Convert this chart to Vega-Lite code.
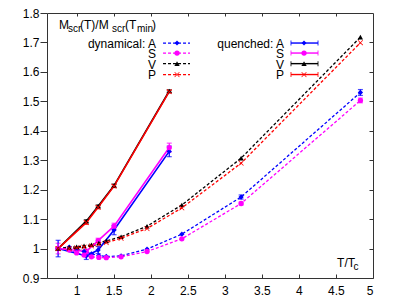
{
  "$schema": "https://vega.github.io/schema/vega-lite/v6.json",
  "width": 326,
  "height": 265,
  "autosize": "none",
  "padding": {"left": 47, "top": 13, "right": 22, "bottom": 22},
  "background": "white",
  "config": {
    "view": {"stroke": "#333", "strokeWidth": 1},
    "font": "Liberation Sans",
    "axis": {"labelFont": "Liberation Sans", "labelFontSize": 12, "labelColor": "#000", "tickColor": "#333", "domain": false, "grid": false, "title": null, "labelOverlap": false}
  },
  "datasets": {
    "main": [
      {"set": "dynamical", "ch": "A", "x": 0.75, "y": 1.0, "err": 0.028},
      {"set": "dynamical", "ch": "A", "x": 1.13, "y": 0.975, "err": 0.012},
      {"set": "dynamical", "ch": "A", "x": 1.29, "y": 0.995, "err": 0.012},
      {"set": "dynamical", "ch": "A", "x": 1.505, "y": 1.063, "err": 0.016},
      {"set": "dynamical", "ch": "A", "x": 2.25, "y": 1.33, "err": 0.018},
      {"set": "dynamical", "ch": "S", "x": 0.75, "y": 1.0, "err": 0.018},
      {"set": "dynamical", "ch": "S", "x": 1.13, "y": 0.99, "err": 0.008},
      {"set": "dynamical", "ch": "S", "x": 1.29, "y": 1.027, "err": 0.008},
      {"set": "dynamical", "ch": "S", "x": 1.505, "y": 1.076, "err": 0.01},
      {"set": "dynamical", "ch": "S", "x": 2.25, "y": 1.343, "err": 0.015},
      {"set": "dynamical", "ch": "V", "x": 0.75, "y": 1.0, "err": 0.004},
      {"set": "dynamical", "ch": "V", "x": 1.13, "y": 1.093, "err": 0.005},
      {"set": "dynamical", "ch": "V", "x": 1.29, "y": 1.144, "err": 0.004},
      {"set": "dynamical", "ch": "V", "x": 1.505, "y": 1.214, "err": 0.005},
      {"set": "dynamical", "ch": "V", "x": 2.25, "y": 1.535, "err": 0.004},
      {"set": "dynamical", "ch": "P", "x": 0.75, "y": 1.0, "err": 0.004},
      {"set": "dynamical", "ch": "P", "x": 1.13, "y": 1.088, "err": 0.006},
      {"set": "dynamical", "ch": "P", "x": 1.29, "y": 1.14, "err": 0.005},
      {"set": "dynamical", "ch": "P", "x": 1.505, "y": 1.212, "err": 0.005},
      {"set": "dynamical", "ch": "P", "x": 2.25, "y": 1.533, "err": 0.004},
      {"set": "quenched", "ch": "A", "x": 0.75, "y": 1.0, "err": 0},
      {"set": "quenched", "ch": "A", "x": 0.9, "y": 1.005, "err": 0},
      {"set": "quenched", "ch": "A", "x": 1.0, "y": 0.998, "err": 0},
      {"set": "quenched", "ch": "A", "x": 1.1, "y": 0.99, "err": 0},
      {"set": "quenched", "ch": "A", "x": 1.2, "y": 0.982, "err": 0},
      {"set": "quenched", "ch": "A", "x": 1.3, "y": 0.976, "err": 0},
      {"set": "quenched", "ch": "A", "x": 1.4, "y": 0.973, "err": 0},
      {"set": "quenched", "ch": "A", "x": 1.6, "y": 0.975, "err": 0},
      {"set": "quenched", "ch": "A", "x": 1.95, "y": 0.998, "err": 0},
      {"set": "quenched", "ch": "A", "x": 2.42, "y": 1.049, "err": 0},
      {"set": "quenched", "ch": "A", "x": 3.22, "y": 1.175, "err": 0.007},
      {"set": "quenched", "ch": "A", "x": 4.83, "y": 1.53, "err": 0.01},
      {"set": "quenched", "ch": "S", "x": 0.75, "y": 1.0, "err": 0},
      {"set": "quenched", "ch": "S", "x": 0.9, "y": 0.995, "err": 0},
      {"set": "quenched", "ch": "S", "x": 1.0, "y": 0.985, "err": 0},
      {"set": "quenched", "ch": "S", "x": 1.1, "y": 0.978, "err": 0},
      {"set": "quenched", "ch": "S", "x": 1.2, "y": 0.972, "err": 0},
      {"set": "quenched", "ch": "S", "x": 1.3, "y": 0.97, "err": 0},
      {"set": "quenched", "ch": "S", "x": 1.4, "y": 0.969, "err": 0},
      {"set": "quenched", "ch": "S", "x": 1.6, "y": 0.972, "err": 0},
      {"set": "quenched", "ch": "S", "x": 1.95, "y": 0.99, "err": 0},
      {"set": "quenched", "ch": "S", "x": 2.42, "y": 1.033, "err": 0},
      {"set": "quenched", "ch": "S", "x": 3.22, "y": 1.153, "err": 0.005},
      {"set": "quenched", "ch": "S", "x": 4.83, "y": 1.503, "err": 0.008},
      {"set": "quenched", "ch": "V", "x": 0.75, "y": 1.0, "err": 0},
      {"set": "quenched", "ch": "V", "x": 0.9, "y": 1.004, "err": 0},
      {"set": "quenched", "ch": "V", "x": 1.0, "y": 1.006, "err": 0},
      {"set": "quenched", "ch": "V", "x": 1.1, "y": 1.009, "err": 0},
      {"set": "quenched", "ch": "V", "x": 1.2, "y": 1.013, "err": 0},
      {"set": "quenched", "ch": "V", "x": 1.3, "y": 1.019, "err": 0},
      {"set": "quenched", "ch": "V", "x": 1.4, "y": 1.026, "err": 0},
      {"set": "quenched", "ch": "V", "x": 1.6, "y": 1.04, "err": 0},
      {"set": "quenched", "ch": "V", "x": 1.95, "y": 1.076, "err": 0},
      {"set": "quenched", "ch": "V", "x": 2.42, "y": 1.148, "err": 0},
      {"set": "quenched", "ch": "V", "x": 3.22, "y": 1.307, "err": 0},
      {"set": "quenched", "ch": "V", "x": 4.83, "y": 1.718, "err": 0},
      {"set": "quenched", "ch": "P", "x": 0.75, "y": 1.0, "err": 0},
      {"set": "quenched", "ch": "P", "x": 0.9, "y": 1.0, "err": 0},
      {"set": "quenched", "ch": "P", "x": 1.0, "y": 1.002, "err": 0},
      {"set": "quenched", "ch": "P", "x": 1.1, "y": 1.005, "err": 0},
      {"set": "quenched", "ch": "P", "x": 1.2, "y": 1.009, "err": 0},
      {"set": "quenched", "ch": "P", "x": 1.3, "y": 1.014, "err": 0},
      {"set": "quenched", "ch": "P", "x": 1.4, "y": 1.02, "err": 0},
      {"set": "quenched", "ch": "P", "x": 1.6, "y": 1.035, "err": 0},
      {"set": "quenched", "ch": "P", "x": 1.95, "y": 1.068, "err": 0},
      {"set": "quenched", "ch": "P", "x": 2.42, "y": 1.138, "err": 0},
      {"set": "quenched", "ch": "P", "x": 3.22, "y": 1.29, "err": 0},
      {"set": "quenched", "ch": "P", "x": 4.83, "y": 1.699, "err": 0}
    ]
  },
  "layer": [
    {
      "data": {"values": [{}]},
      "mark": {"type": "point", "opacity": 0},
      "encoding": {
        "x": {"datum": 1, "type": "quantitative", "scale": {"domain": [0.6, 5], "nice": false, "zero": false},
          "axis": {"orient": "bottom", "title": null, "values": [1, 1.5, 2, 2.5, 3, 3.5, 4, 4.5, 5], "format": "~g", "tickSize": -4, "labelPadding": 11, "labelOverlap": false}},
        "y": {"datum": 1, "type": "quantitative", "scale": {"domain": [0.9, 1.8], "nice": false, "zero": false},
          "axis": {"orient": "left", "title": null, "values": [0.9, 1, 1.1, 1.2, 1.3, 1.4, 1.5, 1.6, 1.7, 1.8], "format": "~g", "tickSize": 7, "labelPadding": 1, "labelOverlap": false, "labelBound": false, "labelFlush": false}}
      }
    },
    {
      "data": {"values": [{}]},
      "mark": {"type": "point", "opacity": 0},
      "encoding": {
        "x": {"datum": 1, "type": "quantitative",
          "axis": {"orient": "top", "title": null, "values": [1, 1.5, 2, 2.5, 3, 3.5, 4, 4.5], "labels": false, "tickSize": -3}},
        "y": {"datum": 1, "type": "quantitative",
          "axis": {"orient": "right", "title": null, "values": [1, 1.1, 1.2, 1.3, 1.4, 1.5, 1.6, 1.7], "labels": false, "tickSize": -4}}
      }
    },
    {
      "layer": [
        {
          "data": {"name": "main"},
          "transform": [{"filter": "datum.set == 'quenched'"}],
          "mark": {"type": "line", "strokeDash": [3, 2], "strokeWidth": 1.3},
          "encoding": {
            "x": {"field": "x", "type": "quantitative", "axis": null},
            "y": {"field": "y", "type": "quantitative", "axis": null},
            "color": {"field": "ch", "type": "nominal", "legend": null, "scale": {"domain": ["A", "S", "V", "P"], "range": ["#0000ff", "#ff00ff", "#000000", "#ff0000"]}}
          }
        },
        {
          "data": {"name": "main"},
          "transform": [{"filter": "datum.set == 'dynamical'"}],
          "mark": {"type": "line", "strokeWidth": 1.6},
          "encoding": {
            "x": {"field": "x", "type": "quantitative", "axis": null},
            "y": {"field": "y", "type": "quantitative", "axis": null},
            "color": {"field": "ch", "type": "nominal", "legend": null}
          }
        },
        {
          "data": {"name": "main"},
          "transform": [{"filter": "datum.err > 0"}],
          "mark": {"type": "errorbar", "ticks": {"size": 5}, "thickness": 1.2},
          "encoding": {
            "x": {"field": "x", "type": "quantitative", "axis": null},
            "y": {"field": "y", "type": "quantitative", "axis": null},
            "yError": {"field": "err"},
            "color": {"field": "ch", "type": "nominal", "legend": null}
          }
        },
        {
          "data": {"name": "main"},
          "mark": {"type": "point", "filled": true, "opacity": 1, "size": 28},
          "encoding": {
            "x": {"field": "x", "type": "quantitative", "axis": null},
            "y": {"field": "y", "type": "quantitative", "axis": null},
            "color": {"field": "ch", "type": "nominal", "legend": null},
            "shape": {"field": "ch", "type": "nominal", "legend": null, "scale": {"domain": ["A", "S", "V", "P"], "range": ["diamond", "circle", "triangle-up", "M-0.8,-1L0,-0.2L0.8,-1L1,-0.8L0.2,0L1,0.8L0.8,1L0,0.2L-0.8,1L-1,0.8L-0.2,0L-1,-0.8Z"]}}
          }
        },
        {"data": {"values": [{}]}, "mark": {"type": "text", "text": "M", "fontSize": 12, "align": "left", "baseline": "alphabetic"}, "encoding": {"x": {"datum": 0.762, "type": "quantitative", "axis": null}, "y": {"datum": 1.7457, "type": "quantitative", "axis": null}}},
        {"data": {"values": [{}]}, "mark": {"type": "text", "text": "scr", "fontSize": 10, "align": "left", "baseline": "alphabetic"}, "encoding": {"x": {"datum": 0.883, "type": "quantitative", "axis": null}, "y": {"datum": 1.7355, "type": "quantitative", "axis": null}}},
        {"data": {"values": [{}]}, "mark": {"type": "text", "text": "(T)/M", "fontSize": 12, "align": "left", "baseline": "alphabetic"}, "encoding": {"x": {"datum": 1.045, "type": "quantitative", "axis": null}, "y": {"datum": 1.7457, "type": "quantitative", "axis": null}}},
        {"data": {"values": [{}]}, "mark": {"type": "text", "text": "scr", "fontSize": 10, "align": "left", "baseline": "alphabetic"}, "encoding": {"x": {"datum": 1.477, "type": "quantitative", "axis": null}, "y": {"datum": 1.7355, "type": "quantitative", "axis": null}}},
        {"data": {"values": [{}]}, "mark": {"type": "text", "text": "(T", "fontSize": 12, "align": "left", "baseline": "alphabetic"}, "encoding": {"x": {"datum": 1.653, "type": "quantitative", "axis": null}, "y": {"datum": 1.7457, "type": "quantitative", "axis": null}}},
        {"data": {"values": [{}]}, "mark": {"type": "text", "text": "min", "fontSize": 10, "align": "left", "baseline": "alphabetic"}, "encoding": {"x": {"datum": 1.815, "type": "quantitative", "axis": null}, "y": {"datum": 1.7355, "type": "quantitative", "axis": null}}},
        {"data": {"values": [{}]}, "mark": {"type": "text", "text": ")", "fontSize": 12, "align": "left", "baseline": "alphabetic"}, "encoding": {"x": {"datum": 2.017, "type": "quantitative", "axis": null}, "y": {"datum": 1.7457, "type": "quantitative", "axis": null}}},
        {"data": {"values": [{}]}, "mark": {"type": "text", "text": "T/T", "fontSize": 12, "align": "left", "baseline": "alphabetic"}, "encoding": {"x": {"datum": 4.515, "type": "quantitative", "axis": null}, "y": {"datum": 0.937, "type": "quantitative", "axis": null}}},
        {"data": {"values": [{}]}, "mark": {"type": "text", "text": "c", "fontSize": 10, "align": "left", "baseline": "alphabetic"}, "encoding": {"x": {"datum": 4.737, "type": "quantitative", "axis": null}, "y": {"datum": 0.927, "type": "quantitative", "axis": null}}},
        {"data": {"values": [{}]}, "mark": {"type": "text", "text": ["dynamical: A", "S", "V", "P"], "fontSize": 12, "align": "right", "baseline": "alphabetic", "lineHeight": 10.5}, "encoding": {"x": {"datum": 2.071, "type": "quantitative", "axis": null}, "y": {"datum": 1.6828, "type": "quantitative", "axis": null}}},
        {"data": {"values": [{}]}, "mark": {"type": "text", "text": ["quenched: A", "S", "V", "P"], "fontSize": 12, "align": "right", "baseline": "alphabetic", "lineHeight": 10.5}, "encoding": {"x": {"datum": 3.799, "type": "quantitative", "axis": null}, "y": {"datum": 1.6828, "type": "quantitative", "axis": null}}},
        {"data": {"values": [{}]}, "mark": {"type": "rule", "color": "#0000ff", "strokeDash": [3, 2], "strokeWidth": 1.3}, "encoding": {"x": {"datum": 2.166, "type": "quantitative", "axis": null}, "x2": {"datum": 2.53}, "y": {"datum": 1.698, "type": "quantitative", "axis": null}}},
        {"data": {"values": [{}]}, "mark": {"type": "rule", "color": "#ff00ff", "strokeDash": [3, 2], "strokeWidth": 1.3}, "encoding": {"x": {"datum": 2.166, "type": "quantitative", "axis": null}, "x2": {"datum": 2.53}, "y": {"datum": 1.664, "type": "quantitative", "axis": null}}},
        {"data": {"values": [{}]}, "mark": {"type": "rule", "color": "#000000", "strokeDash": [3, 2], "strokeWidth": 1.3}, "encoding": {"x": {"datum": 2.166, "type": "quantitative", "axis": null}, "x2": {"datum": 2.53}, "y": {"datum": 1.628, "type": "quantitative", "axis": null}}},
        {"data": {"values": [{}]}, "mark": {"type": "rule", "color": "#ff0000", "strokeDash": [3, 2], "strokeWidth": 1.3}, "encoding": {"x": {"datum": 2.166, "type": "quantitative", "axis": null}, "x2": {"datum": 2.53}, "y": {"datum": 1.591, "type": "quantitative", "axis": null}}},
        {"data": {"values": [{}]}, "mark": {"type": "rule", "color": "#0000ff", "strokeWidth": 1.4}, "encoding": {"x": {"datum": 3.893, "type": "quantitative", "axis": null}, "x2": {"datum": 4.258}, "y": {"datum": 1.698, "type": "quantitative", "axis": null}}},
        {"data": {"values": [{}]}, "mark": {"type": "rule", "color": "#ff00ff", "strokeWidth": 1.4}, "encoding": {"x": {"datum": 3.893, "type": "quantitative", "axis": null}, "x2": {"datum": 4.258}, "y": {"datum": 1.664, "type": "quantitative", "axis": null}}},
        {"data": {"values": [{}]}, "mark": {"type": "rule", "color": "#000000", "strokeWidth": 1.4}, "encoding": {"x": {"datum": 3.893, "type": "quantitative", "axis": null}, "x2": {"datum": 4.258}, "y": {"datum": 1.628, "type": "quantitative", "axis": null}}},
        {"data": {"values": [{}]}, "mark": {"type": "rule", "color": "#ff0000", "strokeWidth": 1.4}, "encoding": {"x": {"datum": 3.893, "type": "quantitative", "axis": null}, "x2": {"datum": 4.258}, "y": {"datum": 1.591, "type": "quantitative", "axis": null}}},
        {"data": {"values": [{}]}, "mark": {"type": "tick", "orient": "vertical", "size": 5, "thickness": 1.2, "color": "#0000ff"}, "encoding": {"x": {"datum": 3.893, "type": "quantitative", "axis": null}, "y": {"datum": 1.698, "type": "quantitative", "axis": null}}},
        {"data": {"values": [{}]}, "mark": {"type": "tick", "orient": "vertical", "size": 5, "thickness": 1.2, "color": "#0000ff"}, "encoding": {"x": {"datum": 4.258, "type": "quantitative", "axis": null}, "y": {"datum": 1.698, "type": "quantitative", "axis": null}}},
        {"data": {"values": [{}]}, "mark": {"type": "tick", "orient": "vertical", "size": 5, "thickness": 1.2, "color": "#ff00ff"}, "encoding": {"x": {"datum": 3.893, "type": "quantitative", "axis": null}, "y": {"datum": 1.664, "type": "quantitative", "axis": null}}},
        {"data": {"values": [{}]}, "mark": {"type": "tick", "orient": "vertical", "size": 5, "thickness": 1.2, "color": "#ff00ff"}, "encoding": {"x": {"datum": 4.258, "type": "quantitative", "axis": null}, "y": {"datum": 1.664, "type": "quantitative", "axis": null}}},
        {"data": {"values": [{}]}, "mark": {"type": "tick", "orient": "vertical", "size": 5, "thickness": 1.2, "color": "#000000"}, "encoding": {"x": {"datum": 3.893, "type": "quantitative", "axis": null}, "y": {"datum": 1.628, "type": "quantitative", "axis": null}}},
        {"data": {"values": [{}]}, "mark": {"type": "tick", "orient": "vertical", "size": 5, "thickness": 1.2, "color": "#000000"}, "encoding": {"x": {"datum": 4.258, "type": "quantitative", "axis": null}, "y": {"datum": 1.628, "type": "quantitative", "axis": null}}},
        {"data": {"values": [{}]}, "mark": {"type": "tick", "orient": "vertical", "size": 5, "thickness": 1.2, "color": "#ff0000"}, "encoding": {"x": {"datum": 3.893, "type": "quantitative", "axis": null}, "y": {"datum": 1.591, "type": "quantitative", "axis": null}}},
        {"data": {"values": [{}]}, "mark": {"type": "tick", "orient": "vertical", "size": 5, "thickness": 1.2, "color": "#ff0000"}, "encoding": {"x": {"datum": 4.258, "type": "quantitative", "axis": null}, "y": {"datum": 1.591, "type": "quantitative", "axis": null}}},
        {"data": {"values": [{}]}, "mark": {"type": "point", "filled": true, "opacity": 1, "size": 24, "shape": "diamond", "color": "#0000ff"}, "encoding": {"x": {"datum": 2.355, "type": "quantitative", "axis": null}, "y": {"datum": 1.698, "type": "quantitative", "axis": null}}},
        {"data": {"values": [{}]}, "mark": {"type": "point", "filled": true, "opacity": 1, "size": 28, "shape": "circle", "color": "#ff00ff"}, "encoding": {"x": {"datum": 2.355, "type": "quantitative", "axis": null}, "y": {"datum": 1.664, "type": "quantitative", "axis": null}}},
        {"data": {"values": [{}]}, "mark": {"type": "point", "filled": true, "opacity": 1, "size": 28, "shape": "triangle-up", "color": "#000000"}, "encoding": {"x": {"datum": 2.355, "type": "quantitative", "axis": null}, "y": {"datum": 1.628, "type": "quantitative", "axis": null}}},
        {"data": {"values": [{}]}, "mark": {"type": "point", "filled": true, "opacity": 1, "size": 28, "shape": "M-0.8,-1L0,-0.2L0.8,-1L1,-0.8L0.2,0L1,0.8L0.8,1L0,0.2L-0.8,1L-1,0.8L-0.2,0L-1,-0.8Z", "color": "#ff0000"}, "encoding": {"x": {"datum": 2.355, "type": "quantitative", "axis": null}, "y": {"datum": 1.591, "type": "quantitative", "axis": null}}},
        {"data": {"values": [{}]}, "mark": {"type": "point", "filled": true, "opacity": 1, "size": 24, "shape": "diamond", "color": "#0000ff"}, "encoding": {"x": {"datum": 4.069, "type": "quantitative", "axis": null}, "y": {"datum": 1.698, "type": "quantitative", "axis": null}}},
        {"data": {"values": [{}]}, "mark": {"type": "point", "filled": true, "opacity": 1, "size": 28, "shape": "circle", "color": "#ff00ff"}, "encoding": {"x": {"datum": 4.069, "type": "quantitative", "axis": null}, "y": {"datum": 1.664, "type": "quantitative", "axis": null}}},
        {"data": {"values": [{}]}, "mark": {"type": "point", "filled": true, "opacity": 1, "size": 28, "shape": "triangle-up", "color": "#000000"}, "encoding": {"x": {"datum": 4.069, "type": "quantitative", "axis": null}, "y": {"datum": 1.628, "type": "quantitative", "axis": null}}},
        {"data": {"values": [{}]}, "mark": {"type": "point", "filled": true, "opacity": 1, "size": 28, "shape": "M-0.8,-1L0,-0.2L0.8,-1L1,-0.8L0.2,0L1,0.8L0.8,1L0,0.2L-0.8,1L-1,0.8L-0.2,0L-1,-0.8Z", "color": "#ff0000"}, "encoding": {"x": {"datum": 4.069, "type": "quantitative", "axis": null}, "y": {"datum": 1.591, "type": "quantitative", "axis": null}}}
      ]
    }
  ],
  "resolve": {"axis": {"x": "independent", "y": "independent"}}
}
